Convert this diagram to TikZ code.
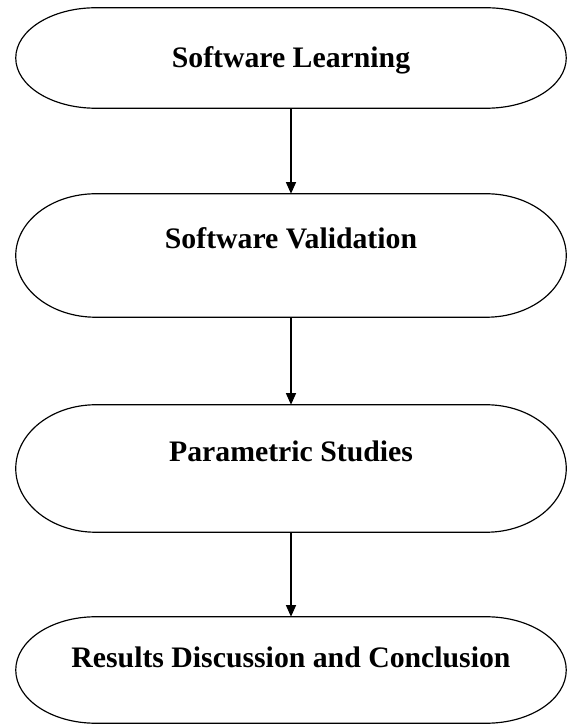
\documentclass[tikz,border=0pt]{standalone}
\usepackage{fontspec}
\setmainfont{Liberation Serif}
\usetikzlibrary{arrows.meta,calc}
\tikzset{
  stage/.style={rectangle,draw=none,inner sep=0pt,minimum width=16.5cm},
  stagetext/.style={anchor=base,font=\bfseries\fontsize{25.4}{28}\selectfont},
  flow/.style={line width=1.5pt,-{Triangle[length=10pt,width=8.5pt]}}
}
\begin{document}
\begin{tikzpicture}[x=0.03cm,y=0.03cm]
                \useasboundingbox (0,0) rectangle (567,726);
                \node[stage,minimum height=3cm] (learn) at (291,668) {};
                \node[stage,minimum height=3.69cm] (valid) at (291,470.5) {};
                \node[stage,minimum height=3.81cm] (param) at (291,257.5) {};
                \node[stage,minimum height=3.18cm] (result) at (291,56) {};
                \foreach \b in {learn,valid,param,result}
                  \draw[line width=1pt] let \p1=(\b.north east), \p2=(\b.south west), \n1={(\y1-\y2)/2} in
                    (\x2+2.4cm,\y1) -- (\x1-2.4cm,\y1) arc[start angle=90,end angle=-90,x radius=2.4cm,y radius=\n1]
                    -- (\x2+2.4cm,\y2) arc[start angle=270,end angle=90,x radius=2.4cm,y radius=\n1] -- cycle;
                \node[stagetext] (learn-t) at (291,658) {Software Learning};
                \node[stagetext] (valid-t) at (291,477) {Software Validation};
                \node[stagetext] (param-t) at (291,264) {Parametric Studies};
                \node[stagetext] (result-t) at (291,58) {Results Discussion and Conclusion};
                \draw[flow] (learn.south) -- (valid.north);
                \draw[flow] (valid.south) -- (param.north);
                \draw[flow] (param.south) -- (result.north);
\end{tikzpicture}
\end{document}
